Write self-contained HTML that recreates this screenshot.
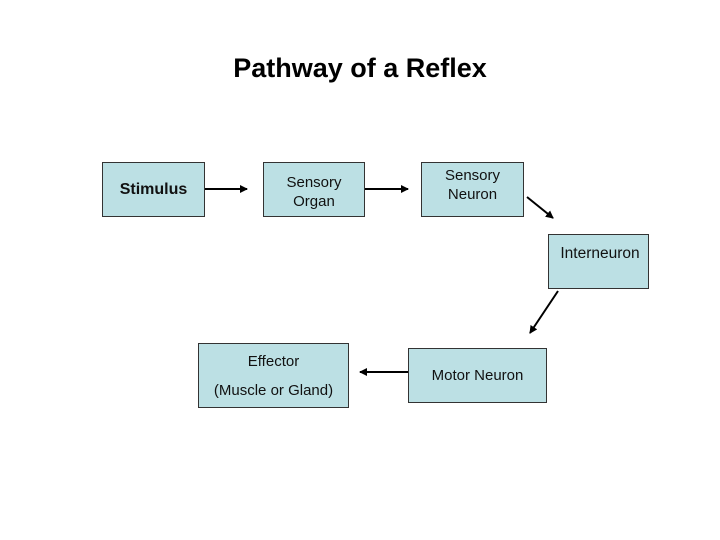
<!DOCTYPE html>
<html><head><style>
body{margin:0;width:720px;height:540px;background:#fff;position:relative;font-family:"Liberation Sans",sans-serif;overflow:hidden}
.b{position:absolute;background:#bce0e4;border:1px solid #333;box-sizing:border-box;display:flex;flex-direction:column;align-items:center;justify-content:center;text-align:center;font-size:15px;color:#111;line-height:19px}
h1{position:absolute;top:53px;left:0;width:720px;text-align:center;font-size:27px;margin:0;font-weight:bold}
</style></head><body>
<h1>Pathway of a Reflex</h1>
<div class="b" style="left:102px;top:162px;width:103px;height:55px;font-weight:bold;font-size:16px">Stimulus</div>
<div class="b" style="left:263px;top:162px;width:102px;height:55px;justify-content:flex-start;padding-top:10px">Sensory<br>Organ</div>
<div class="b" style="left:421px;top:162px;width:103px;height:55px;justify-content:flex-start;padding-top:3px">Sensory<br>Neuron</div>
<div class="b" style="left:548px;top:234px;width:101px;height:55px;padding-bottom:16px;padding-left:3px;font-size:15.5px">Interneuron</div>
<div class="b" style="left:198px;top:343px;width:151px;height:65px;justify-content:flex-start;padding-top:8px"><span>Effector</span><span style="margin-top:10px">(Muscle or Gland)</span></div>
<div class="b" style="left:408px;top:348px;width:139px;height:55px">Motor Neuron</div>
<svg width="720" height="540" style="position:absolute;left:0;top:0">
<defs><marker id="a" markerWidth="8" markerHeight="8" refX="7" refY="4" orient="auto" markerUnits="userSpaceOnUse"><path d="M0,0L8,4L0,8z" fill="#000"/></marker></defs>
<g stroke="#000" stroke-width="2" marker-end="url(#a)">
<line x1="205" y1="189" x2="247" y2="189"/>
<line x1="365" y1="189" x2="408" y2="189"/>
<line x1="527" y1="197" x2="553" y2="218"/>
<line x1="558" y1="291" x2="530" y2="333"/>
<line x1="408" y1="372" x2="360" y2="372"/>
</g></svg>
</body></html>
